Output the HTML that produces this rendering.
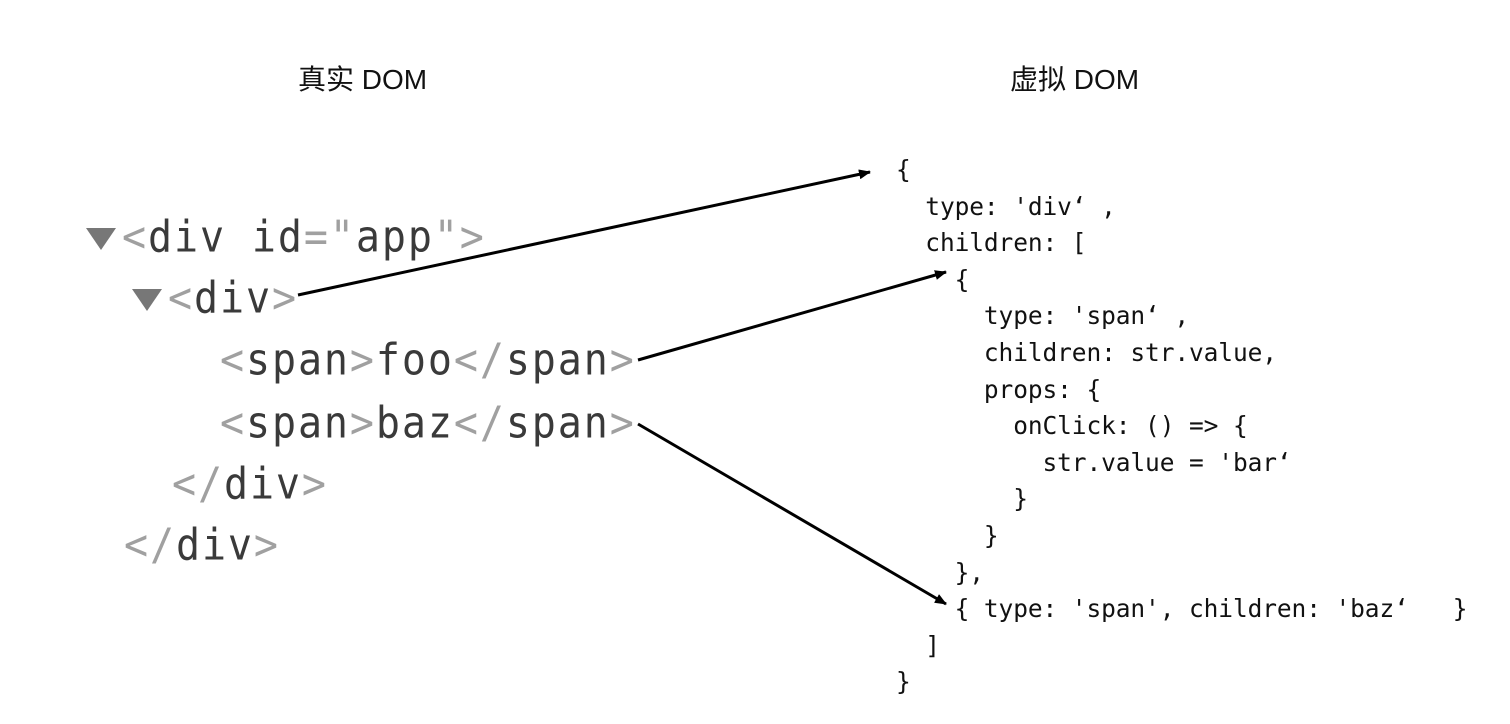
<!DOCTYPE html>
<html><head><meta charset="utf-8"><style>
body{margin:0;width:1510px;height:724px;background:#fff;position:relative;overflow:hidden}
.t{position:absolute;font-family:"Liberation Sans","Noto Sans CJK SC",sans-serif;font-size:28px;color:#111;white-space:pre}
.l{position:absolute;font-family:"DejaVu Sans Mono","Liberation Mono",monospace;font-size:40px;color:#3a3a3a;white-space:pre;line-height:50px;letter-spacing:1.9px;transform:scaleY(1.1);transform-origin:left center}
.g{color:#a0a0a0}
.tri{position:absolute;width:0;height:0;border-left:15px solid transparent;border-right:15px solid transparent;border-top:22px solid #777}
.r{position:absolute;font-family:"DejaVu Sans Mono","Liberation Mono",monospace;font-size:24.5px;color:#111;white-space:pre;line-height:36.6px;left:896px;top:152px;letter-spacing:-0.1px}
</style></head><body>
<div class="t" style="left:298px;top:58px">真实 DOM</div>
<div class="t" style="left:1010px;top:58px">虚拟 DOM</div>
<div class="tri" style="left:86px;top:228px"></div>
<div class="tri" style="left:132px;top:289px"></div>
<div class="l" style="left:122px;top:212px"><span class="g">&lt;</span>div id<span class="g">="</span>app<span class="g">"&gt;</span></div>
<div class="l" style="left:168px;top:273px"><span class="g">&lt;</span>div<span class="g">&gt;</span></div>
<div class="l" style="left:220px;top:335px"><span class="g">&lt;</span>span<span class="g">&gt;</span>foo<span class="g">&lt;/</span>span<span class="g">&gt;</span></div>
<div class="l" style="left:220px;top:398px"><span class="g">&lt;</span>span<span class="g">&gt;</span>baz<span class="g">&lt;/</span>span<span class="g">&gt;</span></div>
<div class="l" style="left:172px;top:459px"><span class="g">&lt;/</span>div<span class="g">&gt;</span></div>
<div class="l" style="left:124px;top:520px"><span class="g">&lt;/</span>div<span class="g">&gt;</span></div>
<div class="r">{
  type: 'div‘ ,
  children: [
    {
      type: 'span‘ ,
      children: str.value,
      props: {
        onClick: () =&gt; {
          str.value = 'bar‘
        }
      }
    },
    { type: 'span', children: 'baz‘   }
  ]
}</div>
<svg width="1510" height="724" style="position:absolute;left:0;top:0">
<defs><marker id="m" markerWidth="12" markerHeight="10" refX="11" refY="5" orient="auto" markerUnits="userSpaceOnUse"><path d="M0,0 L12,5 L0,10 z" fill="#000"/></marker></defs>
<g stroke="#000" stroke-width="3" fill="none">
<line x1="298" y1="295" x2="870" y2="172" marker-end="url(#m)"/>
<line x1="638" y1="360" x2="946" y2="272" marker-end="url(#m)"/>
<line x1="638" y1="424" x2="946" y2="604" marker-end="url(#m)"/>
</g></svg>
</body></html>
